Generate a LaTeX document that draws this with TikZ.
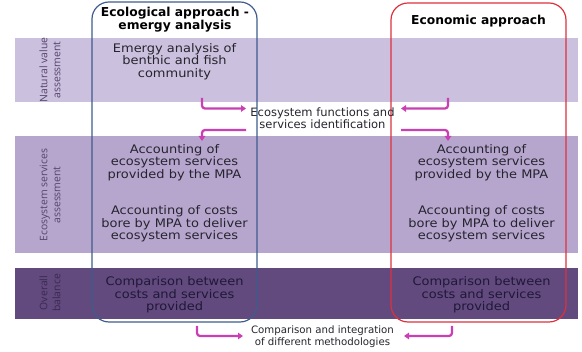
\documentclass[tikz,border=0pt]{standalone}
\usepackage{fontspec}
\setmainfont{DejaVu Sans}
\newfontfamily\bodyfont{DejaVu Sans}[FakeStretch=1.1]
\newfontfamily\lblfont{Open Sans}
\usetikzlibrary{arrows.meta}
\definecolor{bandA}{RGB}{203,192,221}
\definecolor{bandB}{RGB}{182,166,206}
\definecolor{bandC}{RGB}{98,74,126}
\definecolor{ecoblue}{RGB}{62,92,140}
\definecolor{ecored}{RGB}{222,48,60}
\definecolor{mag}{RGB}{202,64,180}
\definecolor{txt}{RGB}{38,36,46}
\definecolor{txtdark}{RGB}{32,24,56}
\definecolor{lblA}{RGB}{84,68,108}
\definecolor{lblC}{RGB}{58,40,82}
\tikzset{
  body/.style={align=center, text=txt, font=\bodyfont\fontsize{11.8}{12.6}\selectfont, inner sep=0pt},
  ttl/.style={align=center, text=black, font=\bfseries\fontsize{12.3}{13}\selectfont, inner sep=0pt},
  mid/.style={align=center, text=txt, font=\fontsize{11.5}{11.8}\selectfont, inner sep=0pt},
  small/.style={align=center, text=txt, font=\fontsize{10.2}{12}\selectfont, inner sep=0pt},
  lbl/.style={align=center, rotate=90, font=\lblfont\fontsize{10.4}{13}\selectfont, inner sep=0pt},
  approach/.style={line width=1.2pt, rounded corners=17pt, fill=none},
  marrow/.style={draw=mag, line width=2.3pt, rounded corners=3pt, -{Triangle[length=5pt,width=6.5pt]}}
}
\begin{document}
\begin{tikzpicture}[x=1pt,y=-1pt]
\useasboundingbox (0,0) rectangle (582,352);
% bands
\fill[bandA] (15,38) rectangle (578,102);
\fill[bandB] (15,136) rectangle (578,253);
\fill[bandC] (15,268) rectangle (578,319);
% approach boxes
\draw[approach, draw=ecoblue] (92,2) rectangle (257,322);
\draw[approach, draw=ecored] (391,3) rectangle (566,322);
% row labels
\node[lbl, text=lblA] (lab1) at (50,70) {Natural value\\assessment};
\node[lbl, text=lblA] (lab2) at (50,195) {Ecosystem services\\assessment};
\node[lbl, text=lblC] (lab3) at (50,293) {Overall\\balance};
% titles
\node[ttl] (ecot) at (175,19.5) {Ecological approach -\\emergy analysis};
\node[ttl] (econt) at (478.5,21) {Economic approach};
% texts
\node[body] (emergy) at (174.5,61.5) {Emergy analysis of\\benthic and fish\\community};
\node[body] (accL) at (174.5,162.5) {Accounting of\\ecosystem services\\provided by the MPA};
\node[body] (costL) at (174.5,224) {Accounting of costs\\bore by MPA to deliver\\ecosystem services};
\node[body, text=txtdark] (cmpL) at (174.5,295) {Comparison between\\costs and services\\provided};
\node[body] (accR) at (481.5,162.5) {Accounting of\\ecosystem services\\provided by the MPA};
\node[body] (costR) at (481.5,224) {Accounting of costs\\bore by MPA to deliver\\ecosystem services};
\node[body, text=txtdark] (cmpR) at (481.5,295) {Comparison between\\costs and services\\provided};
\node[mid] (ident) at (322.5,118) {Ecosystem functions and\\services identification};
\node[small] (integ) at (322.5,337) {Comparison and integration\\of different methodologies};
% arrow anchors
\coordinate (a1s) at (202,98);
\coordinate (a1e) at (246,108.5);
\coordinate (a2s) at (448,98);
\coordinate (a2e) at (401,108.5);
\coordinate (a3s) at (246,130);
\coordinate (a3e) at (202,141);
\coordinate (a4s) at (401,130);
\coordinate (a4e) at (448,141);
\coordinate (b1s) at (197,326);
\coordinate (b1e) at (243,336);
\coordinate (b2s) at (452,326);
\coordinate (b2e) at (404,336);
\draw[marrow] (a1s) |- (a1e);
\draw[marrow] (a2s) |- (a2e);
\draw[marrow] (a3s) -| (a3e);
\draw[marrow] (a4s) -| (a4e);
\draw[marrow] (b1s) |- (b1e);
\draw[marrow] (b2s) |- (b2e);
\end{tikzpicture}
\end{document}
